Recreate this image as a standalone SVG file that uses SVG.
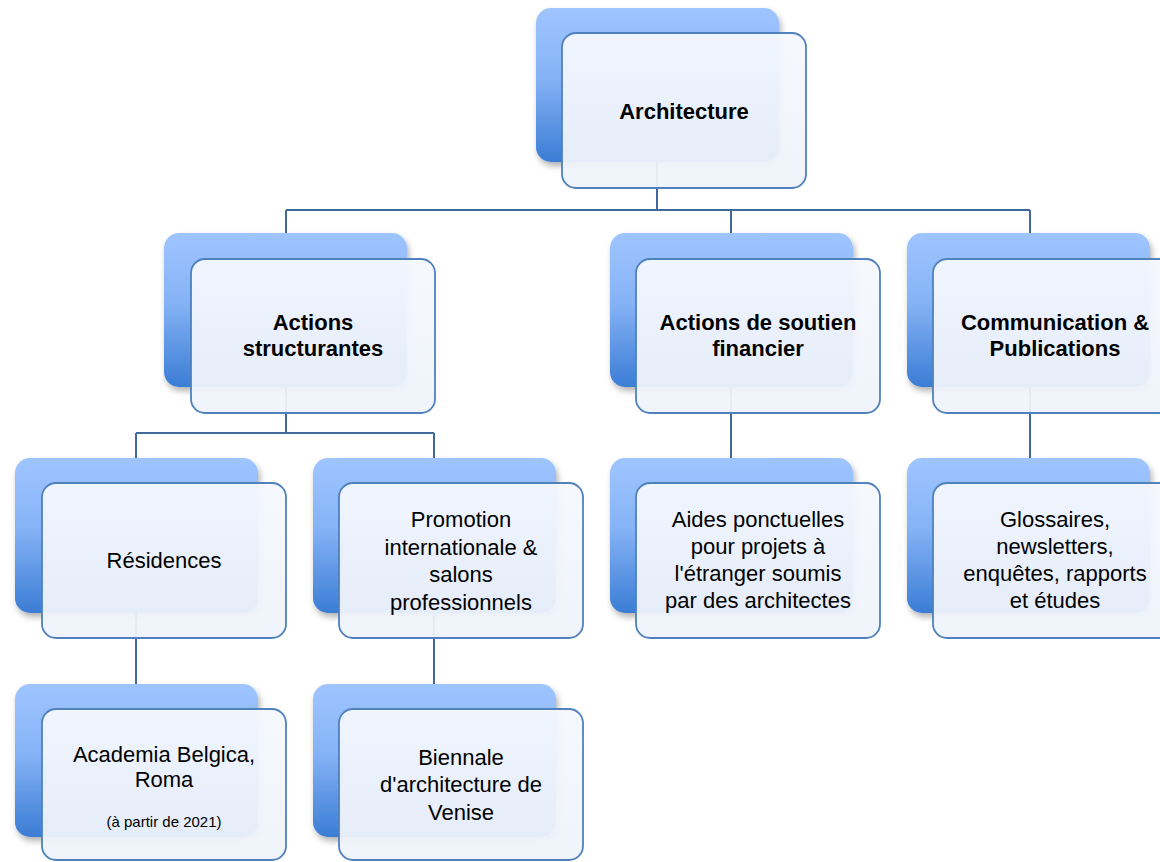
<svg xmlns="http://www.w3.org/2000/svg" width="1160" height="862" viewBox="0 0 1160 862">
<defs>
<linearGradient id="gBack" x1="0" y1="0" x2="0" y2="1">
<stop offset="0" stop-color="#9fc5ff"/>
<stop offset="0.45" stop-color="#86b3f6"/>
<stop offset="1" stop-color="#3b7dd5"/>
</linearGradient>
<linearGradient id="gFront" x1="0" y1="0" x2="0" y2="1">
<stop offset="0" stop-color="#f5f8fe"/>
<stop offset="1" stop-color="#eff3fb"/>
</linearGradient>
<filter id="sh" x="-10%" y="-10%" width="125%" height="130%">
<feDropShadow dx="2" dy="4" stdDeviation="3" flood-color="#000" flood-opacity="0.3"/>
</filter>
</defs>
<style>
.back{fill:url(#gBack);filter:url(#sh);}
.front{fill:url(#gFront);fill-opacity:0.94;stroke:#4f81bd;stroke-width:1.8;}
.conn{fill:none;stroke:#41699c;stroke-width:2;}
text{font-family:"Liberation Sans",Arial,sans-serif;font-size:22px;fill:#000;text-anchor:middle;}
.b{font-weight:bold;}
.s{font-size:15px;}
</style>
<rect width="1160" height="862" fill="#fff"/>
<g id="connectors" class="conn">
<path d="M657 162V210M286 210H1030M286 210V233M731 210V233M1030 210V233"/>
<path d="M286 387V433M136 433H434M136 433V458M434 433V458"/>
<path d="M731 387V458M1030 387V458"/>
<path d="M136 613V684M434 613V684"/>
</g>
<g id="n-architecture">
<rect class="back" x="536" y="8" width="243" height="154" rx="15"/>
<rect class="front" x="562" y="33" width="244" height="155" rx="14"/>
<text class="b" x="684" y="119">Architecture</text>
</g>
<g id="n-actions-structurantes">
<rect class="back" x="164" y="233" width="243" height="154" rx="15"/>
<rect class="front" x="191" y="259" width="244" height="154" rx="14"/>
<text class="b" x="313" y="330">Actions</text>
<text class="b" x="313" y="356">structurantes</text>
</g>
<g id="n-soutien">
<rect class="back" x="610" y="233" width="243" height="154" rx="15"/>
<rect class="front" x="636" y="259" width="244" height="154" rx="14"/>
<text class="b" x="758" y="330">Actions de soutien</text>
<text class="b" x="758" y="356">financier</text>
</g>
<g id="n-communication">
<rect class="back" x="907" y="233" width="243" height="154" rx="15"/>
<rect class="front" x="933" y="259" width="244" height="154" rx="14"/>
<text class="b" x="1055" y="330">Communication &amp;</text>
<text class="b" x="1055" y="356">Publications</text>
</g>
<g id="n-residences">
<rect class="back" x="15" y="458" width="243" height="155" rx="15"/>
<rect class="front" x="42" y="483" width="244" height="155" rx="14"/>
<text x="164" y="568">Résidences</text>
</g>
<g id="n-promotion">
<rect class="back" x="313" y="458" width="243" height="155" rx="15"/>
<rect class="front" x="339" y="483" width="244" height="155" rx="14"/>
<text x="461" y="527">Promotion</text>
<text x="461" y="555">internationale &amp;</text>
<text x="461" y="582">salons</text>
<text x="461" y="610">professionnels</text>
</g>
<g id="n-aides">
<rect class="back" x="610" y="458" width="243" height="155" rx="15"/>
<rect class="front" x="636" y="483" width="244" height="155" rx="14"/>
<text x="758" y="527">Aides ponctuelles</text>
<text x="758" y="554">pour projets à</text>
<text x="758" y="581">l'étranger soumis</text>
<text x="758" y="608">par des architectes</text>
</g>
<g id="n-glossaires">
<rect class="back" x="907" y="458" width="243" height="155" rx="15"/>
<rect class="front" x="933" y="483" width="244" height="155" rx="14"/>
<text x="1055" y="527">Glossaires,</text>
<text x="1055" y="554">newsletters,</text>
<text x="1055" y="581">enquêtes, rapports</text>
<text x="1055" y="608">et études</text>
</g>
<g id="n-academia">
<rect class="back" x="15" y="684" width="243" height="153" rx="15"/>
<rect class="front" x="42" y="709" width="244" height="151" rx="14"/>
<text x="164" y="762">Academia Belgica,</text>
<text x="164" y="787">Roma</text>
<text class="s" x="164" y="827">(à partir de 2021)</text>
</g>
<g id="n-biennale">
<rect class="back" x="313" y="684" width="243" height="153" rx="15"/>
<rect class="front" x="339" y="709" width="244" height="151" rx="14"/>
<text x="461" y="765">Biennale</text>
<text x="461" y="792">d'architecture de</text>
<text x="461" y="820">Venise</text>
</g>
</svg>
